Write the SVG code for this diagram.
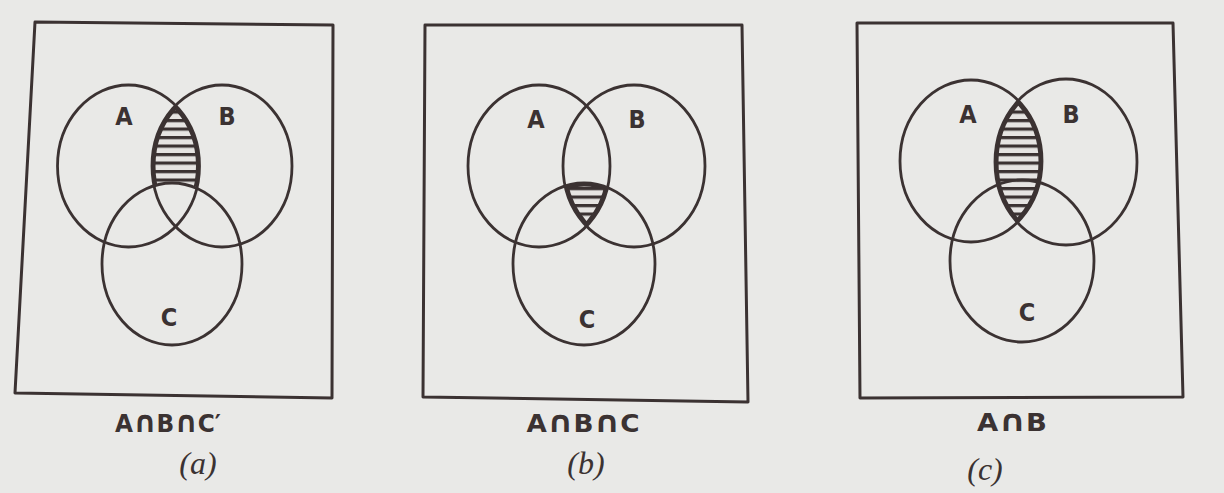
<svg xmlns="http://www.w3.org/2000/svg" width="1224" height="493" viewBox="0 0 1224 493">
<style>
.box{fill:none;stroke:#3b3232;stroke-width:3;stroke-linejoin:round}
.set{fill:none;stroke:#3b3232;stroke-width:2.8}
.edge{fill:none;stroke:#3b3232;stroke-width:7}
.lbl{font-family:"DejaVu Sans","Liberation Sans",sans-serif;font-weight:bold;font-stretch:condensed;font-size:25px;fill:#3b3232;text-anchor:middle}
.cap{font-family:"DejaVu Sans","Liberation Sans",sans-serif;font-weight:bold;font-size:24px;fill:#3b3232;text-anchor:middle}
.cup{font-size:30px}
.sub{font-family:"Liberation Serif",serif;font-style:italic;font-size:32px;fill:#3b3232;text-anchor:middle}
</style>
<defs>
<pattern id="hatch" patternUnits="userSpaceOnUse" width="20" height="8.5">
<rect width="20" height="8.5" fill="#e6e4e2"/>
<rect y="0" width="20" height="3.2" fill="#3b3232"/>
</pattern>
<clipPath id="aA"><ellipse cx="128.5" cy="166" rx="71" ry="81"/></clipPath>
<clipPath id="aB"><ellipse cx="222" cy="166" rx="70" ry="81"/></clipPath>
<mask id="aNotC" maskUnits="userSpaceOnUse" x="0" y="0" width="1224" height="493"><rect width="1224" height="493" fill="#fff"/><ellipse cx="172" cy="264" rx="70" ry="81" fill="#000" stroke="#000" stroke-width="2"/></mask>
<clipPath id="bA"><ellipse cx="539" cy="166" rx="71" ry="81"/></clipPath>
<clipPath id="bB"><ellipse cx="634" cy="166" rx="71" ry="81"/></clipPath>
<clipPath id="bC"><ellipse cx="584" cy="264" rx="71" ry="81"/></clipPath>
<clipPath id="cA"><ellipse cx="971" cy="161" rx="71" ry="81"/></clipPath>
<clipPath id="cB"><ellipse cx="1066" cy="162" rx="71" ry="83"/></clipPath>
</defs>
<rect width="1224" height="493" fill="#e9e9e7"/>

<g id="panel-a">
<polygon class="box" points="35,22 333,25 332,398 15,393"/>
<g clip-path="url(#aA)"><g clip-path="url(#aB)"><g mask="url(#aNotC)">
<rect x="140" y="80" width="80" height="120" fill="url(#hatch)"/>
<ellipse class="edge" cx="128.5" cy="166" rx="71" ry="81"/>
<ellipse class="edge" cx="222" cy="166" rx="70" ry="81"/>
</g></g></g>
<ellipse class="set" cx="128.5" cy="166" rx="71" ry="81"/>
<ellipse class="set" cx="222" cy="166" rx="70" ry="81"/>
<ellipse class="set" cx="172" cy="264" rx="70" ry="81"/>
<text class="lbl" x="124" y="125">A</text>
<text class="lbl" x="227" y="125">B</text>
<text class="lbl" x="169" y="326">C</text>
<text class="cap" x="168" y="432" textLength="106" lengthAdjust="spacingAndGlyphs">A<tspan class="cup">∩</tspan>B<tspan class="cup">∩</tspan>C′</text>
<text class="sub" x="198" y="474">(a)</text>
</g>

<g id="panel-b">
<polygon class="box" points="425,25 742,25 748,402 423,397"/>
<g clip-path="url(#bA)"><g clip-path="url(#bB)"><g clip-path="url(#bC)">
<rect x="550" y="170" width="70" height="70" fill="url(#hatch)"/>
<ellipse class="edge" cx="539" cy="166" rx="71" ry="81"/>
<ellipse class="edge" cx="634" cy="166" rx="71" ry="81"/>
<ellipse class="edge" cx="584" cy="264" rx="71" ry="81"/>
</g></g></g>
<ellipse class="set" cx="539" cy="166" rx="71" ry="81"/>
<ellipse class="set" cx="634" cy="166" rx="71" ry="81"/>
<ellipse class="set" cx="584" cy="264" rx="71" ry="81"/>
<text class="lbl" x="536" y="128">A</text>
<text class="lbl" x="637" y="128">B</text>
<text class="lbl" x="587" y="328">C</text>
<text class="cap" x="583" y="432" textLength="113" lengthAdjust="spacingAndGlyphs">A<tspan class="cup">∩</tspan>B<tspan class="cup">∩</tspan>C</text>
<text class="sub" x="586" y="474">(b)</text>
</g>

<g id="panel-c">
<polygon class="box" points="857,23 1173,23 1183,397 860,398"/>
<g clip-path="url(#cA)"><g clip-path="url(#cB)">
<rect x="980" y="70" width="80" height="190" fill="url(#hatch)"/>
<ellipse class="edge" cx="971" cy="161" rx="71" ry="81"/>
<ellipse class="edge" cx="1066" cy="162" rx="71" ry="83"/>
</g></g>
<ellipse class="set" cx="971" cy="161" rx="71" ry="81"/>
<ellipse class="set" cx="1066" cy="162" rx="71" ry="83"/>
<ellipse class="set" cx="1022" cy="261" rx="72" ry="81"/>
<text class="lbl" x="968" y="123">A</text>
<text class="lbl" x="1071" y="123">B</text>
<text class="lbl" x="1027" y="321">C</text>
<text class="cap" x="1012" y="431" textLength="70" lengthAdjust="spacingAndGlyphs">A<tspan class="cup">∩</tspan>B</text>
<text class="sub" x="985" y="480">(c)</text>
</g>
</svg>
